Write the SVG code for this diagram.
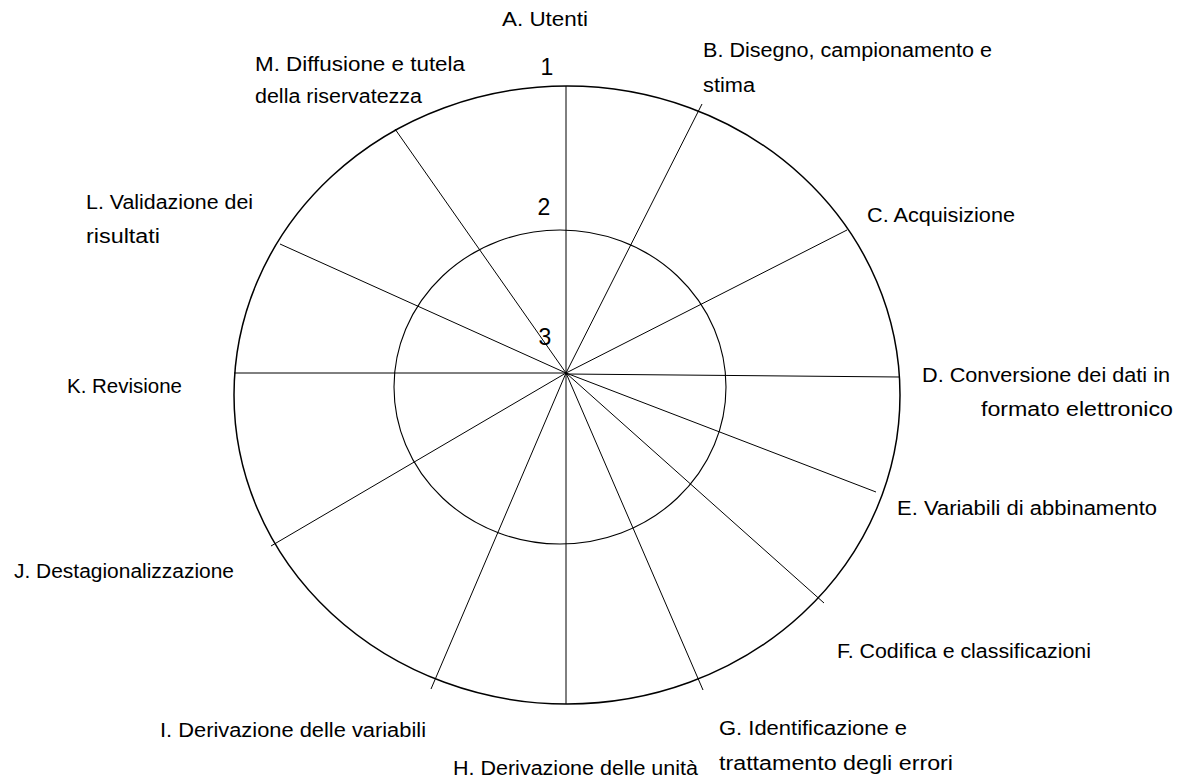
<svg xmlns="http://www.w3.org/2000/svg" width="1192" height="782" viewBox="0 0 1192 782">
  <style>
    .ring { fill: none; stroke: #000; }
    .spoke { stroke: #000; stroke-width: 1; fill: none; }
    .lbl { font-family: "Liberation Sans", Arial, sans-serif; font-size: 20px; fill: #000; }
    .num { font-family: "Liberation Sans", Arial, sans-serif; font-size: 23px; fill: #000; text-anchor: middle; }
  </style>
  <rect width="1192" height="782" fill="#fff"/>
  <g id="rings">
    <ellipse class="ring" cx="567" cy="395" rx="333" ry="309" stroke-width="1.5"/>
    <ellipse class="ring" cx="560" cy="387" rx="166" ry="157" stroke-width="1.1"/>
  </g>
  <g id="connectors">
    <line class="spoke" x1="566" y1="373" x2="566" y2="86"/>
    <line class="spoke" x1="566" y1="373" x2="702" y2="104"/>
    <line class="spoke" x1="566" y1="373" x2="847" y2="230"/>
    <line class="spoke" x1="566" y1="374" x2="900" y2="377" stroke-width="1.3"/>
    <line class="spoke" x1="566" y1="373" x2="876" y2="492"/>
    <line class="spoke" x1="566" y1="373" x2="824" y2="603"/>
    <line class="spoke" x1="566" y1="373" x2="703" y2="690"/>
    <line class="spoke" x1="566" y1="373" x2="566" y2="704"/>
    <line class="spoke" x1="566" y1="373" x2="431" y2="689"/>
    <line class="spoke" x1="566" y1="373" x2="271" y2="546"/>
    <line class="spoke" x1="566" y1="373" x2="234" y2="373" stroke-width="1.3"/>
    <line class="spoke" x1="566" y1="373" x2="280" y2="244"/>
    <line class="spoke" x1="566" y1="373" x2="395" y2="129"/>
  </g>
  <g id="scale">
    <text class="num" x="547" y="75">1</text>
    <text class="num" x="544" y="215">2</text>
    <text class="num" x="545" y="345">3</text>
  </g>
  <g id="node-A"><text class="lbl" x="502" y="26" textLength="86" lengthAdjust="spacingAndGlyphs">A. Utenti</text></g>
  <g id="node-B">
    <text class="lbl" x="703" y="57" textLength="289" lengthAdjust="spacingAndGlyphs">B. Disegno, campionamento e</text>
    <text class="lbl" x="703" y="92" textLength="52" lengthAdjust="spacingAndGlyphs">stima</text>
  </g>
  <g id="node-C"><text class="lbl" x="867" y="222" textLength="148" lengthAdjust="spacingAndGlyphs">C. Acquisizione</text></g>
  <g id="node-D">
    <text class="lbl" x="922" y="382" textLength="248" lengthAdjust="spacingAndGlyphs">D. Conversione dei dati in</text>
    <text class="lbl" x="981" y="416" textLength="192" lengthAdjust="spacingAndGlyphs">formato elettronico</text>
  </g>
  <g id="node-E"><text class="lbl" x="897" y="515" textLength="260" lengthAdjust="spacingAndGlyphs">E. Variabili di abbinamento</text></g>
  <g id="node-F"><text class="lbl" x="837" y="658" textLength="254" lengthAdjust="spacingAndGlyphs">F. Codifica e classificazioni</text></g>
  <g id="node-G">
    <text class="lbl" x="719" y="735" textLength="188" lengthAdjust="spacingAndGlyphs">G. Identificazione e</text>
    <text class="lbl" x="719" y="770" textLength="234" lengthAdjust="spacingAndGlyphs">trattamento degli errori</text>
  </g>
  <g id="node-H"><text class="lbl" x="453" y="775" textLength="245" lengthAdjust="spacingAndGlyphs">H. Derivazione delle unità</text></g>
  <g id="node-I"><text class="lbl" x="160" y="737" textLength="266" lengthAdjust="spacingAndGlyphs">I. Derivazione delle variabili</text></g>
  <g id="node-J"><text class="lbl" x="14" y="578" textLength="220" lengthAdjust="spacingAndGlyphs">J. Destagionalizzazione</text></g>
  <g id="node-K"><text class="lbl" x="67" y="393" textLength="115" lengthAdjust="spacingAndGlyphs">K. Revisione</text></g>
  <g id="node-L">
    <text class="lbl" x="86" y="209" textLength="167" lengthAdjust="spacingAndGlyphs">L. Validazione dei</text>
    <text class="lbl" x="86" y="243" textLength="74" lengthAdjust="spacingAndGlyphs">risultati</text>
  </g>
  <g id="node-M">
    <text class="lbl" x="255" y="71" textLength="210" lengthAdjust="spacingAndGlyphs">M. Diffusione e tutela</text>
    <text class="lbl" x="255" y="103" textLength="167" lengthAdjust="spacingAndGlyphs">della riservatezza</text>
  </g>
</svg>
